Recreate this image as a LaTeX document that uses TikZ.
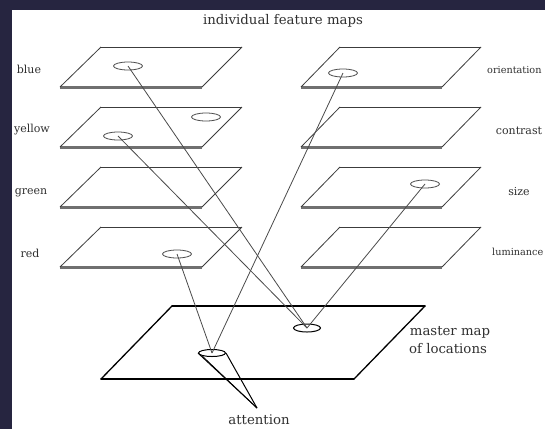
\documentclass[tikz,border=0pt]{standalone}
\usepackage{fontspec}
\setmainfont{DejaVu Serif}
\usetikzlibrary{shapes.geometric}
\definecolor{navy}{HTML}{262540}
\definecolor{txt}{HTML}{303030}
\definecolor{edgegray}{HTML}{707070}
\definecolor{sidegray}{HTML}{3C3C3C}
\definecolor{linegray}{HTML}{4A4A4A}
\begin{document}
\begin{tikzpicture}[x=1pt,y=-1pt,
  lbl/.style={font=\fontsize{11}{13}\selectfont, text=txt, inner sep=0pt},
  bigl/.style={font=\fontsize{13.3}{15}\selectfont, text=txt, inner sep=0pt},
  spot/.style={draw=linegray, line width=0.8pt, ellipse, minimum width=29pt, minimum height=8pt, inner sep=0pt},
  bspot/.style={draw=black, line width=1pt, ellipse, minimum width=27pt, minimum height=8pt, inner sep=0pt},
  ray/.style={draw=linegray, line width=0.8pt},
  cone/.style={draw=black, line width=1pt},
  topedge/.style={draw=sidegray, line width=0.7pt},
  sideedge/.style={draw=sidegray, line width=0.8pt},
  botedge/.style={draw=edgegray, line width=3pt},
  mapedge/.style={draw=black, line width=1.8pt, line cap=round}
]
\useasboundingbox (0,0) rectangle (545,429);
\fill[navy] (0,0) rectangle (545,429);
\fill[white] (11.5,10) rectangle (545,429);

% feature planes (left and right columns)
\foreach \t/\b in {47/87,107/147,167/207,227/267}{
  % left
  \draw[botedge] (60,\b) -- (202,\b);
  \draw[topedge] (101,\t) -- (242,\t);
  \draw[sideedge] (60,\b) -- (101,\t);
  \draw[sideedge] (202,\b) -- (242,\t);
  % right
  \draw[botedge] (301,\b) -- (442,\b);
  \draw[topedge] (340,\t) -- (481,\t);
  \draw[sideedge] (301,\b) -- (340,\t);
  \draw[sideedge] (442,\b) -- (481,\t);
}

% master map plane
\draw[mapedge] (101,379) -- (354,379);
\draw[mapedge] (172,306) -- (425,306);
\draw[mapedge, line width=1.3pt] (101,379) -- (172,306);
\draw[mapedge, line width=1.3pt] (354,379) -- (425,306);

% spots
\node[spot] (blueE) at (128,66) {};
\node[spot] (yellowA) at (118,136) {};
\node[spot] (yellowB) at (206,117) {};
\node[spot] (redE) at (177,254) {};
\node[spot] (orientE) at (343,73) {};
\node[spot] (sizeE) at (425,184) {};
\node[bspot] (masterE) at (307,328) {};
\node[bspot, minimum height=7pt] (coneE) at (212,353) {};
\coordinate (apex) at (257,408);

% connectors
\draw[ray] (blueE.center) -- (masterE.center);
\draw[ray] (yellowA.center) -- (masterE.center);
\draw[ray] (sizeE.center) -- (masterE.center);
\draw[ray] (redE.center) -- (coneE.center);
\draw[ray] (orientE.center) -- (coneE.center);

% attention cone
\draw[cone] (coneE.west) -- (apex);
\draw[cone] (coneE.east) -- (apex);
\draw[cone, line width=0.7pt] (coneE.south west) -- (apex);

% texts
\node[bigl] (title) at (283,21) {individual feature maps};
\node[lbl] (lblue) at (29,69) {blue};
\node[lbl] (lyellow) at (32,130) {yellow};
\node[lbl] (lgreen) at (31,193) {green};
\node[lbl] (lred) at (30,253) {red};
\node[lbl, anchor=west, font=\fontsize{9.7}{12}\selectfont] (lorient) at (487,70) {orientation};
\node[lbl] (lcontrast) at (519,131) {contrast};
\node[lbl] (lsize) at (519,192) {size};
\node[lbl, anchor=west, font=\fontsize{9.7}{12}\selectfont] (llum) at (492,252) {luminance};
\node[bigl] (lmaster) at (450,332) {master map};
\node[bigl] (lloc) at (448,349) {of locations};
\node[bigl] (latt) at (259,420) {attention};
\end{tikzpicture}
\end{document}
